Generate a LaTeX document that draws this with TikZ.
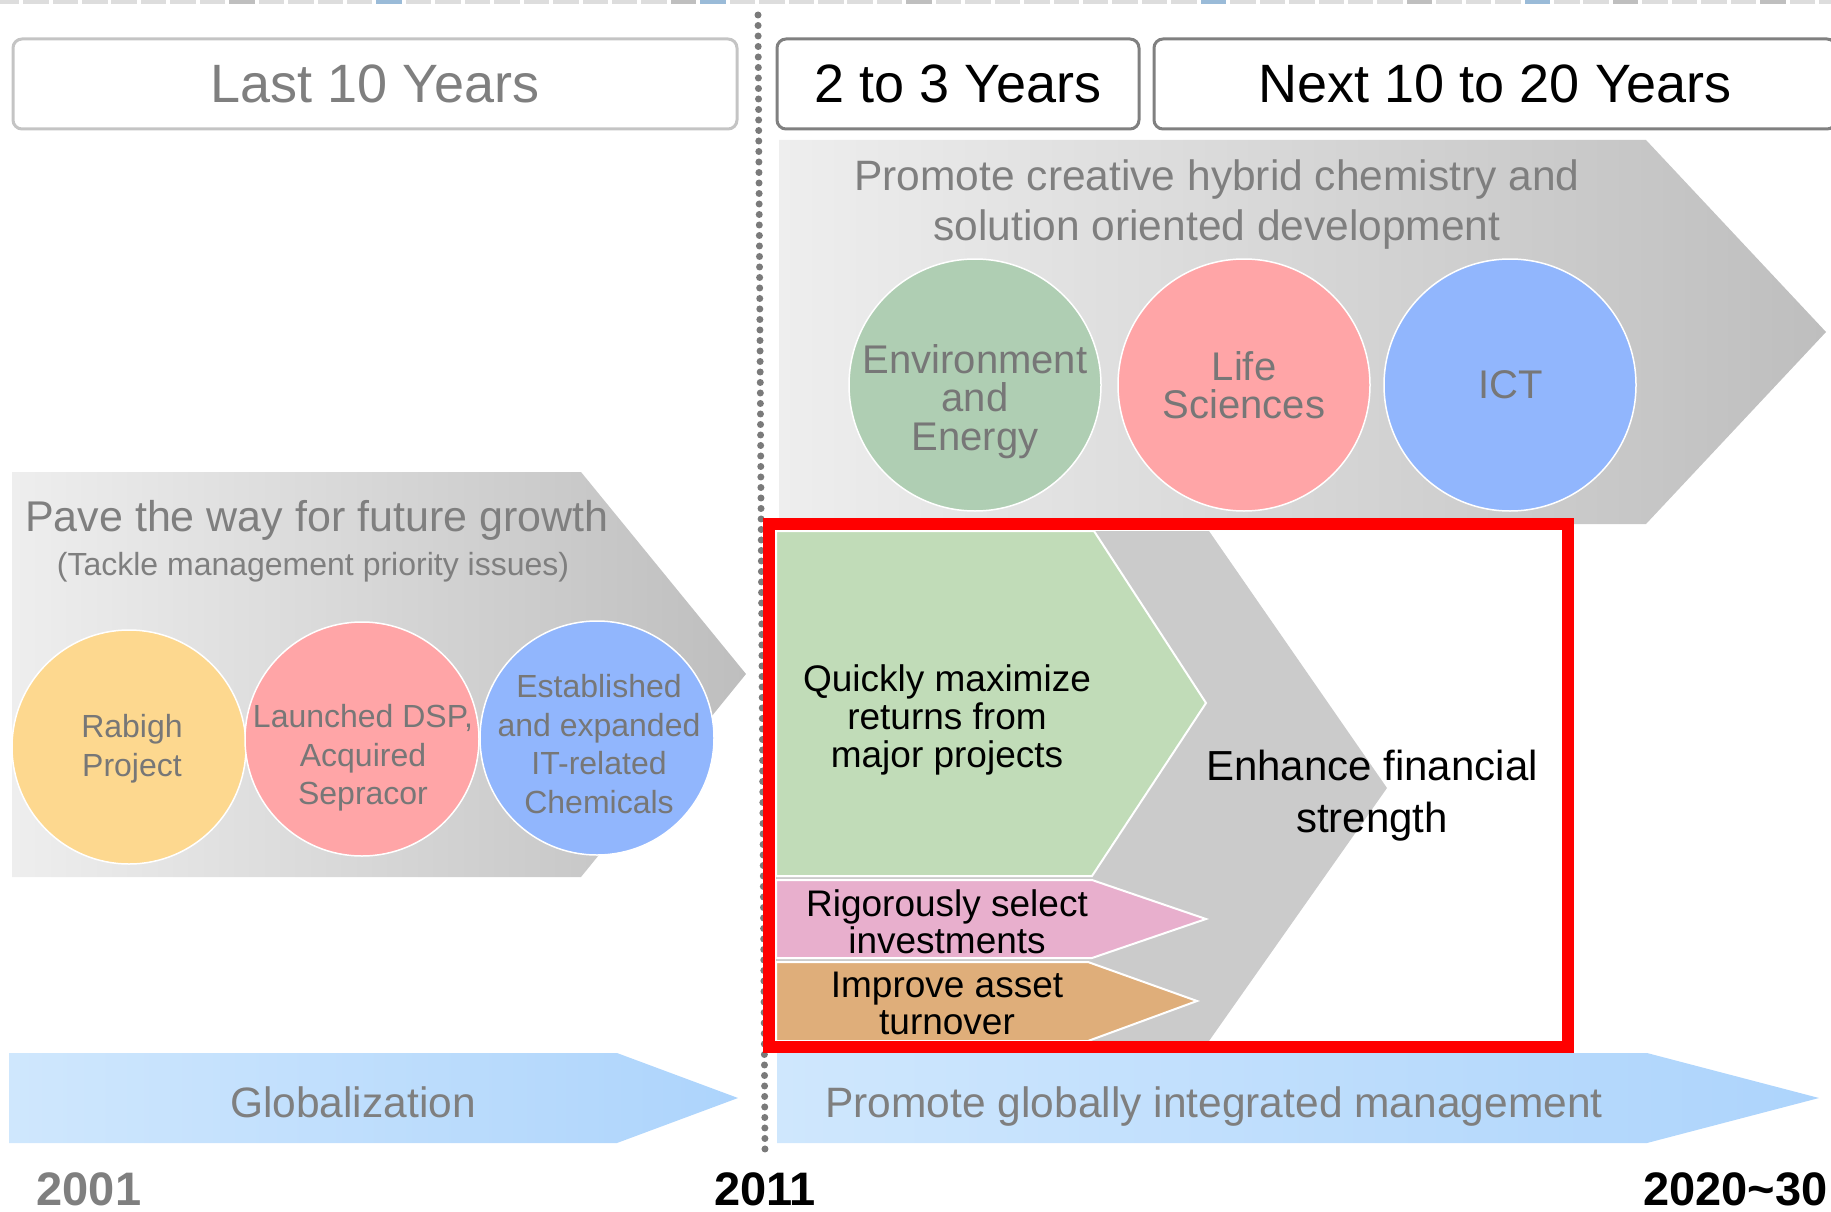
\documentclass[tikz,border=0pt]{standalone}
\usepackage{fontspec}
\setmainfont{Liberation Sans}
\definecolor{gtxt}{HTML}{7F7F7F}
\definecolor{ctxt}{HTML}{777777}
\definecolor{lightbd}{HTML}{C4C4C4}
\definecolor{darkbd}{HTML}{808080}
\definecolor{arrL}{HTML}{EEEEEE}
\definecolor{arrR}{HTML}{BEBEBE}
\definecolor{cgreen}{HTML}{AFCEB3}
\definecolor{cpink}{HTML}{FFA5A7}
\definecolor{cblue}{HTML}{91B6FD}
\definecolor{cyellow}{HTML}{FDD88F}
\definecolor{bgreen}{HTML}{C1DCB8}
\definecolor{bpink}{HTML}{E8AFCD}
\definecolor{borange}{HTML}{DFAE7A}
\definecolor{bgrey}{HTML}{CBCBCB}
\definecolor{blueL}{HTML}{CFE7FD}
\definecolor{blueR}{HTML}{ADD4FC}
\definecolor{stripL}{HTML}{DDDDDD}
\definecolor{stripD}{HTML}{BFBFBF}
\definecolor{stripB}{HTML}{9ABBD8}
\definecolor{dotc}{HTML}{7A7A7A}
\definecolor{redbox}{HTML}{FF0000}
\begin{document}
\begin{tikzpicture}[x=1pt,y=-1pt,
  hdr/.style={draw, line width=3pt, rounded corners=9pt, inner sep=0pt, minimum height=90pt, font=\fontsize{54}{60}\selectfont},
  bubble/.style={circle, draw=white, line width=1.5pt, inner sep=0pt},
  bigcirc/.style={bubble, minimum size=252pt},
  smallcirc/.style={bubble, minimum size=234pt},
  ctext/.style={align=center, text=ctxt, inner sep=0pt},
  title/.style={align=center, text=gtxt, inner sep=0pt, font=\fontsize{42.5}{50}\selectfont},
  btext/.style={align=center, text=black, inner sep=0pt},
  year/.style={inner sep=0pt, font=\fontsize{47}{50}\selectfont\bfseries},
  seg/.style={draw=white, line width=2pt, line join=miter}
]
\useasboundingbox (0,0) rectangle (1831,1212);
\clip (0,0) rectangle (1831,1212);

% top dashed strip
\foreach \k in {0,...,62}{
  \fill[stripL] ({-6.3+29.44*\k},0) rectangle ({19.2+29.44*\k},4);
}
\foreach \k in {8,23,31,48,55,60}{
  \fill[stripD] ({-6.3+29.44*\k},0) rectangle ({19.2+29.44*\k},4);
}
\foreach \k in {13,24,41,52}{
  \fill[stripB] ({-6.3+29.44*\k},0) rectangle ({19.2+29.44*\k},4);
}

% headers
\node[hdr, draw=lightbd, text=gtxt, minimum width=724pt] (last) at (375,84) {Last 10 Years};
\node[hdr, draw=darkbd, text=black, minimum width=362pt] (near) at (958,84) {2 to 3 Years};
\node[hdr, draw=darkbd, text=black, minimum width=682pt] (next) at (1495,84) {Next 10 to 20 Years};

% dotted divider
\coordinate (dtop) at (758,15);
\coordinate (dbot) at (765,1152);
\draw[dotc, line width=7pt, line cap=round, dash pattern=on 0pt off 10.5pt] (dtop) -- (dbot);

% upper big arrow
\shade[left color=arrL, right color=arrR] (779,140) -- (1646,140) -- (1826,332) -- (1646,524) -- (779,524) -- cycle;
\node[title] (hybrid) at (1217,205) {Promote creative hybrid chemistry and\\solution oriented development};
\node[bigcirc, fill=cgreen] (env) at (975,385) {};
\node[bigcirc, fill=cpink] (life) at (1244,385) {};
\node[bigcirc, fill=cblue] (ict) at (1510,385) {};
\node[ctext, font=\fontsize{40}{38.5}\selectfont] (envt) at (975,401.5) {Environment\\and\\Energy};
\node[ctext, font=\fontsize{40}{38.5}\selectfont] (lifet) at (1244,385) {Life\\Sciences};
\node[ctext, font=\fontsize{40}{46}\selectfont] (ictt) at (1511,385) {ICT};

% left arrow
\shade[left color=arrL, right color=arrR] (12,472) -- (581,472) -- (746,674) -- (581,877) -- (12,877) -- cycle;
\node[title, anchor=west, font=\fontsize{43}{50}\selectfont] (pave) at (25,520) {Pave the way for future growth};
\node[title, font=\fontsize{32}{38}\selectfont] (tackle) at (313,567) {(Tackle management priority issues)};
\node[smallcirc, fill=cyellow] (rab) at (129,747) {};
\node[smallcirc, fill=cpink] (dsp) at (362,739) {};
\node[smallcirc, fill=cblue] (it) at (597,738) {};
\node[ctext, font=\fontsize{32}{38.5}\selectfont] (rabt) at (132,748.5) {Rabigh\\Project};
\node[ctext, font=\fontsize{32}{38.5}\selectfont] (dspt) at (363,758) {Launched DSP,\\Acquired\\Sepracor};
\node[ctext, font=\fontsize{32}{38.5}\selectfont] (itt) at (599,744) {Established\\and expanded\\IT-related\\Chemicals};

% red box contents
\fill[bgrey] (776,531) -- (1209,531) -- (1387,788) -- (1209,1041) -- (776,1041) -- cycle;
\filldraw[seg, fill=bgreen] (776,531) -- (1094,531) -- (1206,703) -- (1092,876) -- (776,876) -- cycle;
\filldraw[seg, fill=bpink] (776,880) -- (1092,880) -- (1206,919) -- (1092,958) -- (776,958) -- cycle;
\filldraw[seg, fill=borange] (776,962) -- (1088,962) -- (1197,1001) -- (1088,1041) -- (776,1041) -- cycle;
\node[btext, font=\fontsize{37}{38}\selectfont] (quick) at (947,719.5) {Quickly maximize\\returns from\\major projects};
\node[btext, font=\fontsize{42}{52}\selectfont] (enh) at (1372,795.5) {Enhance financial\\strength};
\node[btext, font=\fontsize{37}{37}\selectfont] (rig) at (947,922) {Rigorously select\\investments};
\node[btext, font=\fontsize{37}{37}\selectfont] (imp) at (947,1003.5) {Improve asset\\turnover};
\draw[redbox, line width=12pt] (769,524) rectangle (1568,1047);

% bottom arrows
\shade[left color=blueL, right color=blueR] (9,1053) -- (617,1053) -- (738,1098) -- (617,1143) -- (9,1143) -- cycle;
\shade[left color=blueL, right color=blueR] (777,1053) -- (1647,1053) -- (1819,1098) -- (1647,1143) -- (777,1143) -- cycle;
\node[title, anchor=base] (glob) at (353,1117) {Globalization};
\node[title, anchor=base] (pgim) at (1214,1117) {Promote globally integrated management};

% years
\node[year, text=gtxt] (y1) at (89,1189) {2001};
\node[year, text=black] (y2) at (765,1189) {2011};
\node[year, text=black, anchor=west] (y3) at (1643,1189) {2020\textasciitilde 30};
\end{tikzpicture}
\end{document}
